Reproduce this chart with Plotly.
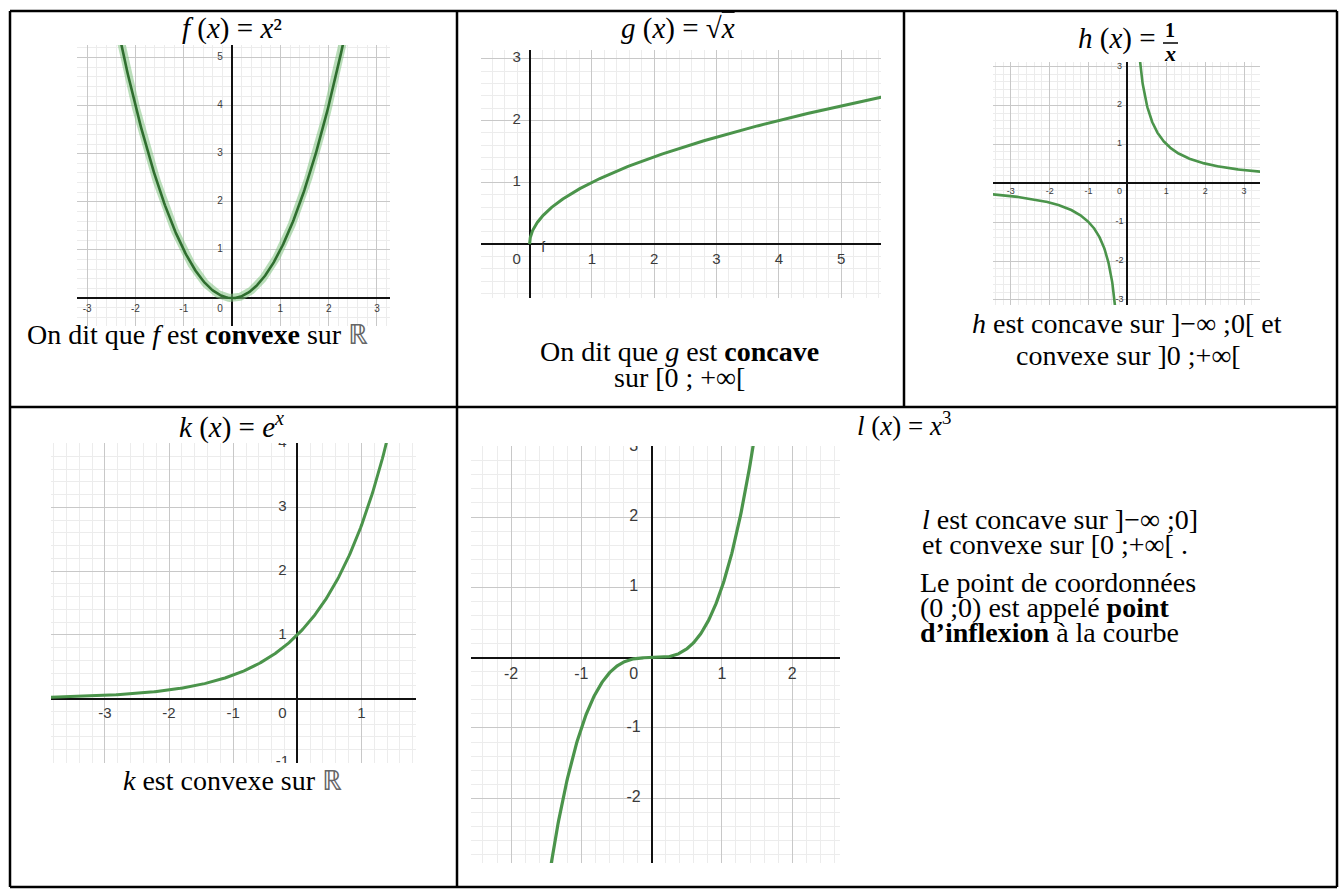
import numpy as np
import plotly.graph_objects as go

W, H = 1339, 896

# ---------------- tick values of each graph ----------------
f_xticks = [-3, -2, -1, 1, 2, 3]
f_yticks = [1, 2, 3, 4, 5]
g_xticks = [1, 2, 3, 4, 5]
g_yticks = [1, 2, 3]
h_xticks = [-3, -2, -1, 1, 2, 3]
h_yticks = [-3, -2, -1, 1, 2, 3]
k_xticks = [-3, -2, -1, 1]
k_yticks = [-1, 1, 2, 3, 4]
l_xticks = [-2, -1, 1, 2]
l_yticks = [-2, -1, 1, 2, 3]

# ---------------- plotted intervals of the curves ----------------
f_interval = (-2.45, 2.45)
g_interval = (0.0, 5.7)
h_interval_neg = (-3.5, -0.3)
h_interval_pos = (0.3, 3.5)
k_interval = (-3.9, 1.45)
l_interval = (-1.46, 1.46)


def f(x):
    return x ** 2


def g(x):
    return np.sqrt(x)


def h(x):
    return 1.0 / x


def k(x):
    return np.exp(x)


def l(x):
    return x ** 3


GREEN = "#4b944b"
SERIF = "Liberation Serif"
SANS = "Liberation Sans"

# panel geometry (pixel box: left, top, right, bottom) and axis windows
panels = [
    dict(box=(77, 45, 390, 326), xr=(-3.21, 3.27), yr=(-0.58, 5.26),
         xt=f_xticks, yt=f_yticks, fs=10, dx=12, dy=11),
    dict(box=(481, 50, 881, 298), xr=(-0.78, 5.64), yr=(-0.87, 3.14),
         xt=g_xticks, yt=g_yticks, fs=15, dx=13, dy=16),
    dict(box=(993, 62, 1260, 305), xr=(-3.46, 3.41), yr=(-3.13, 3.11),
         xt=h_xticks, yt=h_yticks, fs=9, dx=8, dy=9),
    dict(box=(51, 443, 416, 763), xr=(-3.84, 1.85), yr=(-1.01, 4.01),
         xt=k_xticks, yt=k_yticks, fs=15, dx=15, dy=16),
    dict(box=(471, 446, 840, 863), xr=(-2.57, 2.68), yr=(-2.92, 3.01),
         xt=l_xticks, yt=l_yticks, fs=16, dx=18, dy=17),
]

fig = go.Figure()
layout = dict(width=W, height=H, autosize=False,
              margin=dict(l=0, r=0, t=0, b=0),
              paper_bgcolor="white", plot_bgcolor="white",
              font=dict(family=SERIF, color="black"),
              showlegend=False)

for i, p in enumerate(panels):
    n = "" if i == 0 else str(i + 1)
    x0, y0, x1, y1 = p["box"]
    common = dict(tick0=0, dtick=1, showgrid=True, gridcolor="#c8c8c8",
                  gridwidth=1, zeroline=True, zerolinecolor="#111111",
                  zerolinewidth=1.6, showticklabels=False, ticks="",
                  showline=False, fixedrange=True,
                  minor=dict(tick0=0, dtick=0.2, showgrid=True,
                             gridcolor="#ececec", gridwidth=1))
    layout["xaxis" + n] = dict(common, domain=[x0 / W, x1 / W],
                               range=list(p["xr"]), anchor="y" + n)
    layout["yaxis" + n] = dict(common, domain=[1 - y1 / H, 1 - y0 / H],
                               range=list(p["yr"]), anchor="x" + n)

    # tick labels sit along the axes through the origin
    ppx = (x1 - x0) / (p["xr"][1] - p["xr"][0])
    ppy = (y1 - y0) / (p["yr"][1] - p["yr"][0])
    tx = list(p["xt"]) + [-p["dx"] / ppx] + [-p["dx"] / ppx] * len(p["yt"])
    ty = [-p["dy"] / ppy] * len(p["xt"]) + [-p["dy"] / ppy] + list(p["yt"])
    labels = [str(v) for v in p["xt"]] + ["0"] + [str(v) for v in p["yt"]]
    fig.add_trace(go.Scatter(x=tx, y=ty, text=labels, mode="text",
                             textposition="middle center",
                             textfont=dict(family=SANS, size=p["fs"], color="#3a3a3a"),
                             cliponaxis=True, hoverinfo="skip",
                             xaxis="x" + n, yaxis="y" + n))

# ---------------- curves ----------------
fx = np.linspace(*f_interval, 301)
fig.add_trace(go.Scatter(x=fx, y=f(fx), mode="lines",
                         line=dict(color="rgba(130,195,130,0.55)", width=8),
                         hoverinfo="skip", xaxis="x", yaxis="y"))
fig.add_trace(go.Scatter(x=fx, y=f(fx), mode="lines",
                         line=dict(color="#2f6e2f", width=2.6),
                         hoverinfo="skip", xaxis="x", yaxis="y"))

gx = np.linspace(np.sqrt(g_interval[0]), np.sqrt(g_interval[1]), 300) ** 2
fig.add_trace(go.Scatter(x=gx, y=g(gx), mode="lines",
                         line=dict(color=GREEN, width=3),
                         hoverinfo="skip", xaxis="x2", yaxis="y2"))

for a, b in (h_interval_neg, h_interval_pos):
    hx = np.linspace(a, b, 300)
    fig.add_trace(go.Scatter(x=hx, y=h(hx), mode="lines",
                             line=dict(color=GREEN, width=2.6),
                             hoverinfo="skip", xaxis="x3", yaxis="y3"))

kx = np.linspace(*k_interval, 300)
fig.add_trace(go.Scatter(x=kx, y=k(kx), mode="lines",
                         line=dict(color=GREEN, width=3),
                         hoverinfo="skip", xaxis="x4", yaxis="y4"))

lx = np.linspace(*l_interval, 300)
fig.add_trace(go.Scatter(x=lx, y=l(lx), mode="lines",
                         line=dict(color=GREEN, width=3.2),
                         hoverinfo="skip", xaxis="x5", yaxis="y5"))

# name of the curve next to the origin of the square-root graph
fig.add_trace(go.Scatter(x=[0.22], y=[-0.07], text=["f"], mode="text",
                         textfont=dict(family=SANS, size=14, color="#333333"),
                         cliponaxis=True, hoverinfo="skip",
                         xaxis="x2", yaxis="y2"))


# ---------------- table borders ----------------
def px(x):
    return x / W


def py(y):
    return 1 - y / H


TL, TR, TT, TB = 10, 1337, 11, 887
ROW = 407
C1, C2 = 457, 904
shapes = []
for (xa, ya, xb, yb) in [
    (TL, TT, TR, TT), (TL, TB, TR, TB), (TL, TT, TL, TB), (TR, TT, TR, TB),
    (TL, ROW, TR, ROW), (C1, TT, C1, TB), (C2, TT, C2, ROW),
]:
    shapes.append(dict(type="line", xref="paper", yref="paper",
                       x0=px(xa), y0=py(ya), x1=px(xb), y1=py(yb),
                       line=dict(color="black", width=2.5)))

# fraction bar of 1/x
shapes.append(dict(type="line", xref="paper", yref="paper",
                   x0=px(1163), y0=py(43), x1=px(1178), y1=py(43),
                   line=dict(color="black", width=1.5)))
layout["shapes"] = shapes


# ---------------- titles and comments ----------------
def note(text, x, y, size=28, anchor="center"):
    return dict(text=text, x=px(x), y=py(y), xref="paper", yref="paper",
                xanchor=anchor, yanchor="middle", showarrow=False,
                font=dict(family=SERIF, size=size, color="black"))


R = '<span style="color:#666666">ℝ</span>'
annotations = [
    note("<i>f</i> (<i>x</i>) = <i>x</i>²", 232, 28, 29),
    note('<i>g</i> (<i>x</i>) = √<span style="text-decoration:overline"><i>x</i></span>',
         678, 28, 29),
    note("<i>h</i> (<i>x</i>) =", 1117, 38, 29),
    note("<b>1</b>", 1170, 30, 20),
    note("<b><i>x</i></b>", 1170, 54, 22),
    note("<i>k</i> (<i>x</i>) = <i>e</i><sup><i>x</i></sup>", 231, 425, 29),
    note("<i>l</i> (<i>x</i>) = <i>x</i><sup>3</sup>", 904, 424, 27),

    note("On dit que <i>f</i> est <b>convexe</b> sur " + R, 25, 334, 28, "left"),
    note("On dit que <i>g</i> est <b>concave</b>", 680, 351, 28),
    note("sur [0 ; +∞[", 680, 377, 28),
    note("<i>h</i> est concave sur ]−∞ ;0[ et", 1127, 324, 28),
    note("convexe sur ]0 ;+∞[", 1128, 355, 28),
    note("<i>k</i> est convexe sur " + R, 233, 780, 28),
    note("<i>l</i> est concave sur ]−∞ ;0]", 920, 519, 28, "left"),
    note("et convexe sur [0 ;+∞[ .", 920, 544, 28, "left"),
    note("Le point de coordonnées", 918, 582, 28, "left"),
    note("(0 ;0) est appelé <b>point</b>", 918, 607, 28, "left"),
    note("<b>d’inflexion</b> à la courbe", 918, 632, 28, "left"),
]
layout["annotations"] = annotations

fig.update_layout(**layout)
fig.write_html("out.html")
